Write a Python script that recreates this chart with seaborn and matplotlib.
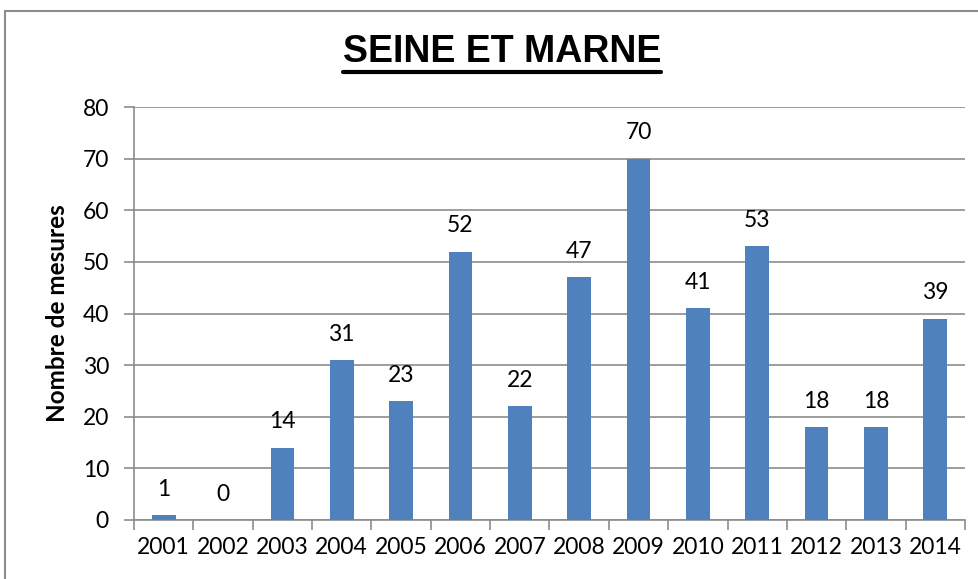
import matplotlib
matplotlib.use("Agg")
import matplotlib.pyplot as plt
import seaborn as sns
import pandas as pd
from matplotlib.patches import Rectangle
from matplotlib import font_manager

years = ["2001", "2002", "2003", "2004", "2005", "2006", "2007",
         "2008", "2009", "2010", "2011", "2012", "2013", "2014"]
values = [1, 0, 14, 31, 23, 52, 22, 47, 70, 41, 53, 18, 18, 39]
title = "SEINE ET MARNE"
ylabel = "Nombre de mesures"

df = pd.DataFrame({"year": years, "value": values})

sns.set_theme(style="white")
names = {f.name for f in font_manager.fontManager.ttflist}
body_font = "Lato" if "Lato" in names else "DejaVu Sans"
title_font = "Liberation Sans Narrow" if "Liberation Sans Narrow" in names else "Liberation Sans"
plt.rcParams["font.family"] = [body_font, "DejaVu Sans"]
plt.rcParams["text.color"] = "black"
plt.rcParams["axes.labelcolor"] = "black"
plt.rcParams["xtick.color"] = "black"
plt.rcParams["ytick.color"] = "black"

fig = plt.figure(figsize=(9.79, 5.79), dpi=100)
ax = fig.add_axes([134/979, 1-520/579, (965-134)/979, (520-107)/579])

sns.barplot(data=df, x="year", y="value", color="#4F81BD", saturation=1,
            width=0.4, ax=ax, zorder=3, linewidth=0)

ax.set_ylim(0, 80)
ax.set_xlim(-0.5, len(years)-0.5)
ax.set_yticks(range(0, 81, 10))
ax.yaxis.grid(True, color="#8C8C8C", linewidth=1.2, zorder=0)
ax.set_axisbelow(True)
for s in ["top", "right"]:
    ax.spines[s].set_visible(False)
for s in ["left", "bottom"]:
    ax.spines[s].set_color("#8C8C8C")
    ax.spines[s].set_linewidth(1.2)
ax.set_xticks([i - 0.5 for i in range(len(years)+1)], minor=True)
ax.tick_params(axis="x", which="major", length=0, labelsize=16.5, pad=12, labelcolor="black")
ax.tick_params(axis="x", which="minor", length=7, width=1.2, color="#8C8C8C", bottom=True)
ax.tick_params(axis="y", length=7, width=1.2, color="#8C8C8C", labelsize=16.5, pad=11,
               left=True, labelcolor="black")
ax.set_xlabel("")
ax.set_ylabel(ylabel, fontsize=17.5, fontweight="bold", labelpad=10, color="black")

for i, v in enumerate(values):
    ax.annotate(str(v), (i, v), xytext=(0, 11), textcoords="offset points",
                ha="center", va="bottom", fontsize=16.5, color="black")

t = fig.text(0.5125, 1-52/579, title, ha="center", va="center",
             fontsize=27, fontweight="bold", family=title_font, color="black")
fig.canvas.draw()
bb = t.get_window_extent()
uy = bb.y0 - 2
fig.add_artist(plt.Line2D([bb.x0/979, bb.x1/979], [uy/579, uy/579],
                          transform=fig.transFigure, color="black", linewidth=3))

fig.add_artist(Rectangle((5/979, -0.1), 1.1, 1 - 11/579 + 0.1, transform=fig.transFigure,
                         fill=False, edgecolor="#8C8C8C", linewidth=1.5))

fig.savefig("out.png", dpi=100)
